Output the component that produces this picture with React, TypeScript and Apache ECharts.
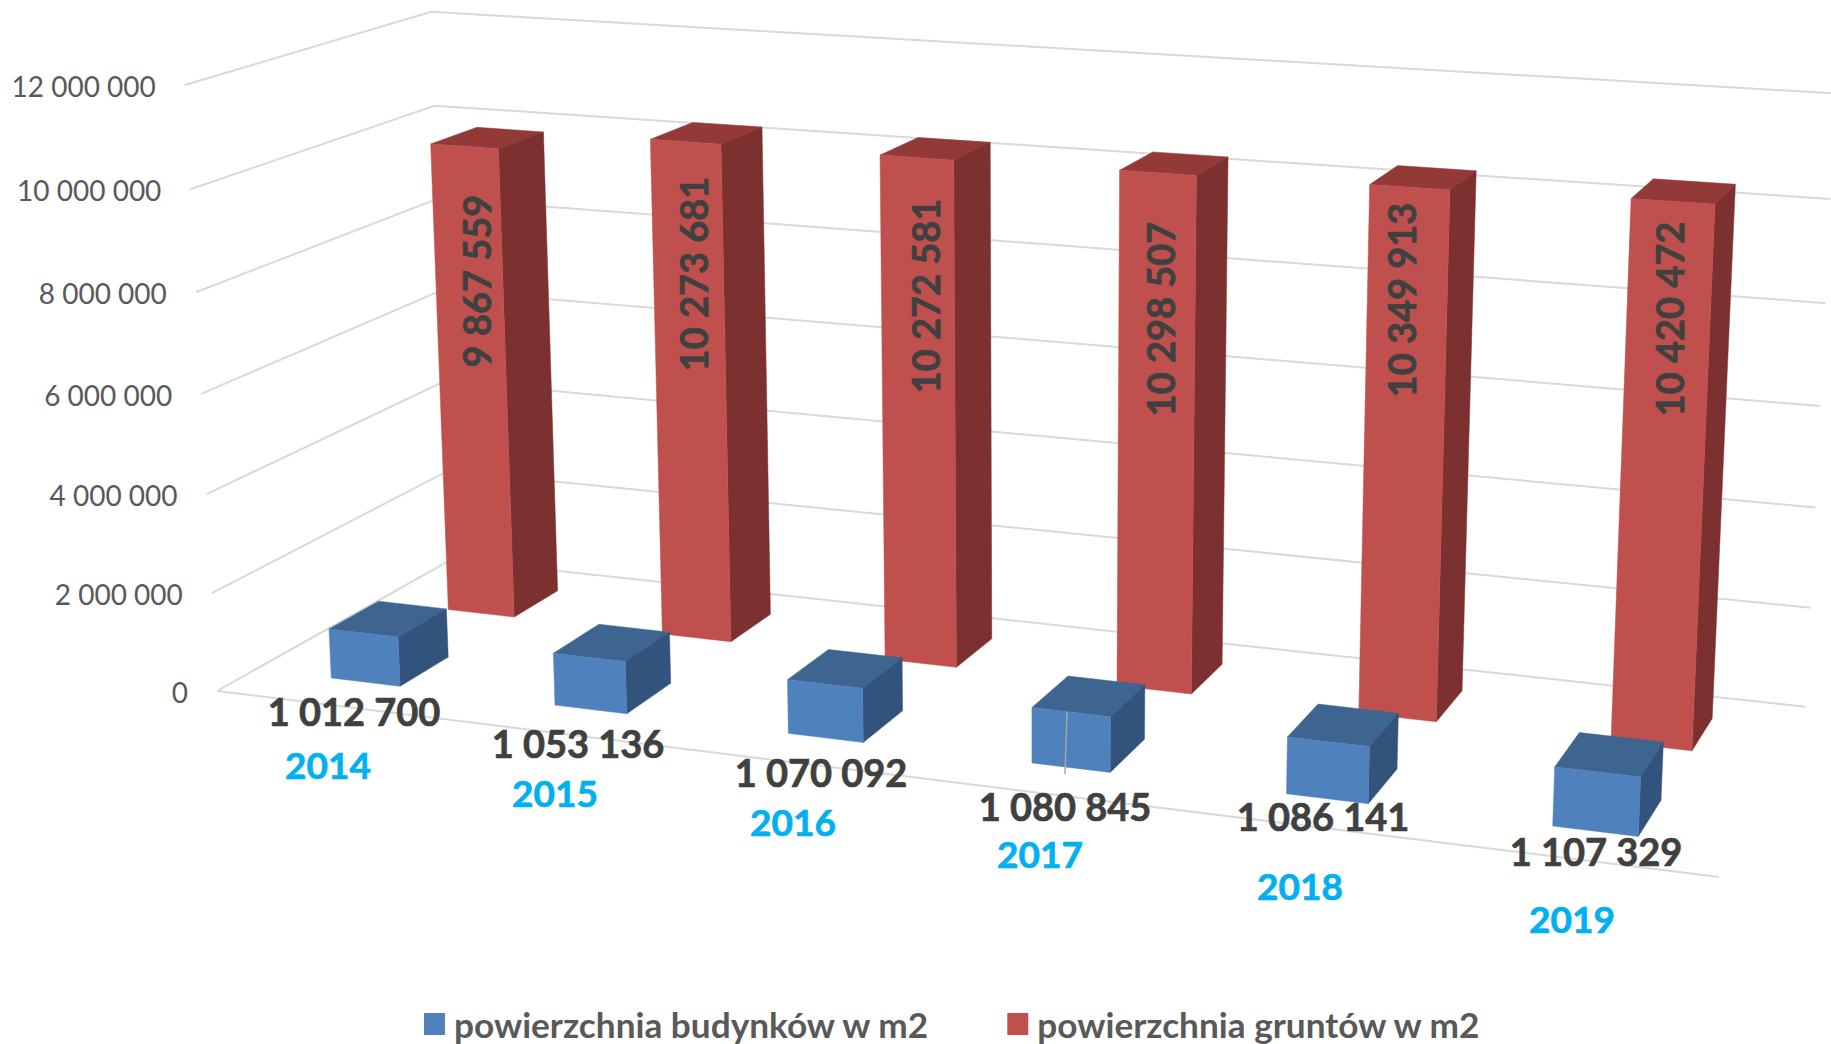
import React, { useEffect, useRef } from "react";
import * as echarts from "echarts";

const WIDTH = 1831;
const HEIGHT = 1044;

// ---- data ----
const years = ["2014", "2015", "2016", "2017", "2018", "2019"];
const buildings = [1012700, 1053136, 1070092, 1080845, 1086141, 1107329];
const land = [9867559, 10273681, 10272581, 10298507, 10349913, 10420472];
const buildingLabels = ["1 012 700", "1 053 136", "1 070 092", "1 080 845", "1 086 141", "1 107 329"];
const landLabels = ["9 867 559", "10 273 681", "10 272 581", "10 298 507", "10 349 913", "10 420 472"];
const tickValues = [0, 2000000, 4000000, 6000000, 8000000, 10000000, 12000000];
const tickLabels = ["0", "2 000 000", "4 000 000", "6 000 000", "8 000 000", "10 000 000", "12 000 000"];
const BUILDINGS_NAME = "powierzchnia budynków w m2";
const LAND_NAME = "powierzchnia gruntów w m2";

// ---- annotation placement (label centres on the page) ----
const landLabelPos = [[476, 281], [693, 274], [925, 296], [1160, 319], [1401, 300], [1669, 319]];
const buildingLabelPos = [[354, 711], [578, 743], [821, 772], [1065, 806], [1323, 816], [1596, 851]];
const yearLabelPos = [[328, 764], [555, 792], [793, 821], [1040, 853], [1300, 885], [1572, 918]];

// ---- camera: three vanishing points + origin + axis ends of the chart box ----
const ORIGIN = [217, 691];
const VP_X = [-10307, -612];
const VP_Y = [1040, 16200];
const VP_Z = [2550, -618];
const END_X = 1719; // x of right end of the front floor edge
const END_Y = 85; // y of the top of the front-left edge
const END_Z = 450; // x of the rear-left floor corner
const ax = (END_X - ORIGIN[0]) / (VP_X[0] - END_X);
const ay = (END_Y - ORIGIN[1]) / (VP_Y[1] - END_Y);
const az = (END_Z - ORIGIN[0]) / (VP_Z[0] - END_Z);

function project(X: number, Y: number, Z: number): number[] {
  const hx = ORIGIN[0] + ax * VP_X[0] * X + ay * VP_Y[0] * Y + az * VP_Z[0] * Z;
  const hy = ORIGIN[1] + ax * VP_X[1] * X + ay * VP_Y[1] * Y + az * VP_Z[1] * Z;
  const w = 1 + ax * X + ay * Y + az * Z;
  return [hx / w, hy / w];
}

// bar footprints
const BAR_RATIO = 0.312;
const BLUE_DEPTH = [0.155, 0.362];
const RED_DEPTH = [0.662, 0.87];
const WALL_END_X = 0.995;
const WALL_Z = 1.008;
const GRID_RIGHT = 1;

const FONT = "Lato";
const COLORS = {
  blue: { front: "#4F81BD", top: "#3E6490", side: "#32547C" },
  red: { front: "#C0504D", top: "#933A38", side: "#7C3130" },
};

function face(points: number[][], fill: string) {
  return {
    type: "polygon",
    shape: { points },
    style: { fill, stroke: fill, lineWidth: 0.5 },
  };
}

function textEl(text: string, x: number, y: number, size: number, fill: string, bold: boolean, rotation = 0, align = "center") {
  return {
    type: "text",
    x,
    y,
    rotation,
    style: {
      text,
      fill,
      fontFamily: FONT,
      fontSize: size,
      fontWeight: bold ? "bold" : "normal",
      align,
      verticalAlign: "middle",
      stroke: bold ? fill : undefined,
      lineWidth: bold ? 0.7 : 0,
    },
  };
}

function barRenderer(depth: number[], palette: { front: string; top: string; side: string }, extras: (i: number) => any[]) {
  return (_params: any, api: any) => {
    const i = api.value(0);
    const base = api.coord([i, 0]);
    const tip = api.coord([i, api.value(1)]);
    const band = api.size([1, 0])[0];
    const half = (band * BAR_RATIO) / 2;
    const x0 = (base[0] - half) / WIDTH;
    const x1 = (base[0] + half) / WIDTH;
    const y0 = (HEIGHT - base[1]) / HEIGHT;
    const y1 = (HEIGHT - tip[1]) / HEIGHT;
    const [z0, z1] = depth;
    const top = face([project(x0, y1, z0), project(x1, y1, z0), project(x1, y1, z1), project(x0, y1, z1)], palette.top);
    const side = face([project(x1, y0, z0), project(x1, y0, z1), project(x1, y1, z1), project(x1, y1, z0)], palette.side);
    const front = face([project(x0, y0, z0), project(x1, y0, z0), project(x1, y1, z0), project(x0, y1, z0)], palette.front);
    return { type: "group", children: [top, side, front, ...extras(i)] };
  };
}

export default function App() {
  const ref = useRef<HTMLDivElement>(null);
  useEffect(() => {
    document.body.style.margin = "0";
    document.body.style.background = "#fff";
    const chart = echarts.init(ref.current!, undefined, { renderer: "svg" });
    chart.setOption({
      animation: false,
      backgroundColor: "#ffffff",
      grid: { left: 0, right: GRID_RIGHT, top: 0, bottom: 0 },
      xAxis: { type: "category", data: years, show: false },
      yAxis: { type: "value", min: 0, max: 12000000, interval: 2000000, show: false },
      legend: {
        data: [
          { name: BUILDINGS_NAME, icon: "rect" },
          { name: LAND_NAME, icon: "rect" },
        ],
        left: 424,
        top: 1006,
        itemWidth: 21,
        itemHeight: 22,
        itemGap: 77,
        selectedMode: false,
        padding: 0,
        textStyle: { fontFamily: FONT, fontSize: 35.2, lineHeight: 36, fontWeight: "bold", color: "#595959", padding: [0, 0, 0, 4] },
      },
      series: [
        {
          type: "custom",
          name: "grid",
          silent: true,
          clip: false,
          data: tickValues.map((v) => [0, v]),
          renderItem: (params: any, api: any) => {
            const val = api.value(1);
            const y = (HEIGHT - api.coord([0, val])[1]) / HEIGHT;
            const a = project(0, y, 0);
            const b = project(0, y, WALL_Z);
            const c = project(WALL_END_X, y, WALL_Z);
            const children: any[] = [
              { type: "polyline", shape: { points: [a, b, c] }, style: { stroke: "#D9D9D9", lineWidth: 2, fill: "none" } },
              textEl(tickLabels[params.dataIndex], a[0] - 29, a[1] + 1, 28, "#595959", false, 0, "right"),
            ];
            if (val === 0) {
              children.push({
                type: "polyline",
                shape: { points: [a, project(1, 0, 0)] },
                style: { stroke: "#D9D9D9", lineWidth: 2, fill: "none" },
              });
            }
            return { type: "group", children };
          },
        },
        {
          type: "custom",
          name: LAND_NAME,
          silent: true,
          clip: false,
          itemStyle: { color: COLORS.red.front },
          data: land.map((v, i) => [i, v]),
          renderItem: barRenderer(RED_DEPTH, COLORS.red, (i) => [
            textEl(landLabels[i], landLabelPos[i][0], landLabelPos[i][1], 38, "#404040", true, Math.PI / 2),
          ]),
        },
        {
          type: "custom",
          name: BUILDINGS_NAME,
          silent: true,
          clip: false,
          itemStyle: { color: COLORS.blue.front },
          data: buildings.map((v, i) => [i, v]),
          renderItem: barRenderer(BLUE_DEPTH, COLORS.blue, (i) => {
            const out: any[] = [
              textEl(buildingLabels[i], buildingLabelPos[i][0], buildingLabelPos[i][1], 38, "#404040", true),
              textEl(years[i], yearLabelPos[i][0], yearLabelPos[i][1], 37, "#00B0F0", true),
            ];
            if (years[i] === "2017") {
              out.push({
                type: "line",
                shape: { x1: 1067, y1: 712, x2: 1065, y2: 774 },
                style: { stroke: "#A6A6A6", lineWidth: 1.5 },
              });
            }
            return out;
          }),
        },
      ],
    });
    return () => chart.dispose();
  }, []);
  return <div ref={ref} style={{ width: WIDTH, height: HEIGHT, overflow: "hidden" }} />;
}
